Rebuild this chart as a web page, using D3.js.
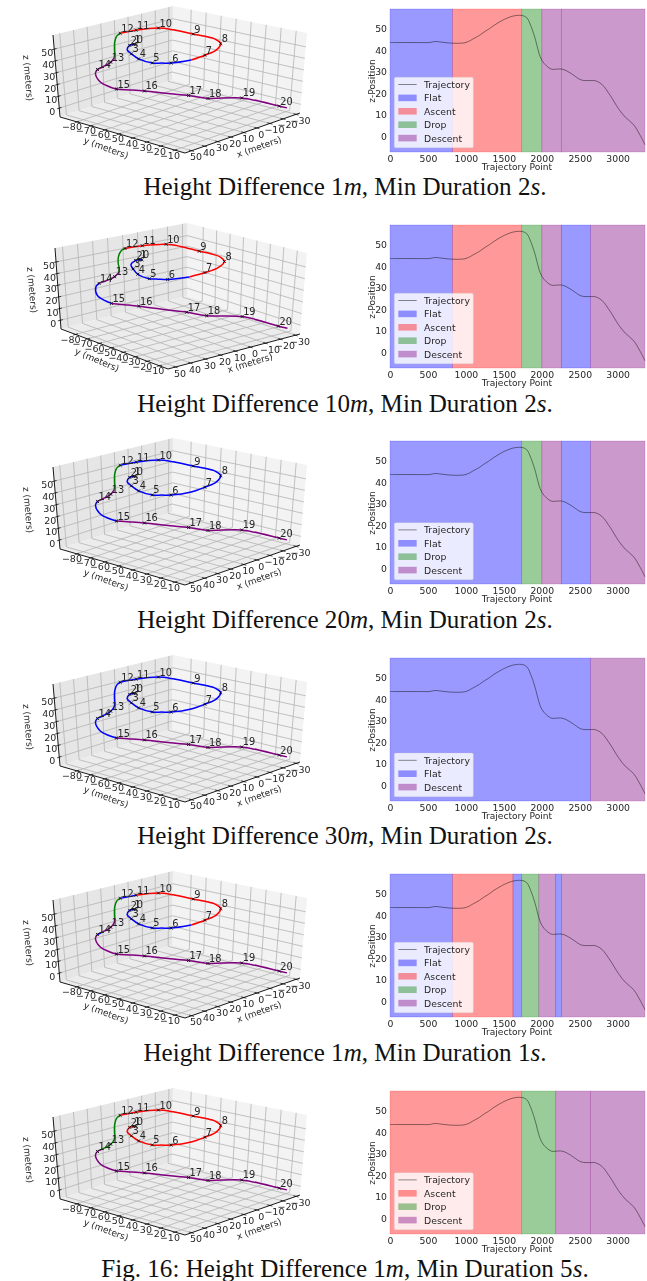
<!DOCTYPE html>
<html>
<head>
<meta charset="utf-8">
<script src="https://cdn.jsdelivr.net/npm/d3@7"></script>
<style>
html, body { margin: 0; padding: 0; background: #fff; }
svg { display: block; }
.plot { filter: blur(0.35px); }
text { font-family: "DejaVu Sans"; fill: #262626; }
.caption text, text.caption { font-family: "Liberation Serif"; fill: #111; }
</style>
</head>
<body>
<div id="chart"></div>
<script>
// trajectory samples
const trajIdx = [0, 50, 100, 200, 300, 400, 520, 590, 650, 825, 1000, 1090, 1180, 1240, 1300, 1370, 1450, 1520, 1620, 1735, 1800, 1860, 1920, 1960, 2000, 2060, 2130, 2183, 2258, 2330, 2420, 2520, 2640, 2700, 2790, 2900, 3010, 3100, 3210, 3300, 3360];
const trajX = [8.5, 9.4, 11.9, 19.1, 23.9, 28.9, 30.1, 28, 24.5, 12.2, 1.1, -8, -15.6, -17.8, -16.7, -13.2, -10.1, -5.6, 7.7, 18.6, 21.4, 24.1, 24.2, 21.7, 21.5, 25.3, 30.1, 33.9, 37.8, 42.1, 49.1, 49.2, 49.6, 46.1, 39.8, 26.4, 12.6, 3.6, -13.7, -23.4, -29.9];
const trajY = [-79.4, -80.4, -80.5, -75.7, -68.4, -58.9, -48.5, -44, -40.8, -38.5, -39.4, -39.9, -44, -49.6, -55.7, -60.4, -71.1, -76.9, -79.8, -80.5, -80.1, -79.3, -79.6, -81.9, -82.5, -81.5, -81.4, -80.4, -79.3, -76.8, -67.5, -61.7, -55.6, -49.5, -45.3, -39.8, -39.6, -34.3, -26.5, -9, -9.3];
const trajZ = [43.6, 43.6, 43.6, 43.6, 43.6, 43.6, 43.6, 44.1, 43.9, 43.3, 43.6, 45.2, 47, 48.5, 49.8, 51.6, 53.3, 54.6, 55.9, 56.2, 55.2, 51, 44.5, 39, 35.4, 32.8, 31.2, 31.2, 31.3, 30.4, 28.4, 26.2, 25.9, 25.9, 24.2, 19.1, 12.9, 8.9, 5.4, 0.2, -3.9];
// waypoints 0..20 as trajectory indices
const waypointIdx = [0, 50, 100, 300, 400, 520, 650, 1000, 1180, 1370, 1520, 1620, 1735, 2060, 2258, 2640, 2790, 3010, 3100, 3210, 3300];

const xTicks3d = [50, 40, 30, 20, 10, 0, -10, -20, -30];
const yTicks3d = [-80, -70, -60, -50, -40, -30, -20, -10];
const zTicks3d = [0, 10, 20, 30, 40, 50];
const xTicks2d = [0, 500, 1000, 1500, 2000, 2500, 3000];
const yTicks2d = [0, 10, 20, 30, 40, 50];

const heightDiff = [1, 10, 20, 30, 1, 1];
const minDuration = [2, 2, 2, 2, 1, 5];
const spanBreaks = [
    [825, 1735, 2000, 2258, 3360],
    [825, 1735, 2000, 2258, 2640, 3360],
    [1735, 2000, 2258, 2640, 3360],
    [2640, 3360],
    [825, 1620, 1735, 1960, 2183, 2258, 3360],
    [1735, 2183, 2640, 3360]
];
const spanKinds = [
    ["Flat", "Ascent", "Drop", "Descent", "Descent"],
    ["Flat", "Ascent", "Drop", "Descent", "Flat", "Descent"],
    ["Flat", "Drop", "Descent", "Flat", "Descent"],
    ["Flat", "Descent"],
    ["Flat", "Ascent", "Flat", "Drop", "Descent", "Flat", "Descent"],
    ["Ascent", "Drop", "Descent", "Descent"]
];
const kindOrder = ["Flat", "Ascent", "Drop", "Descent"];
const kindColor = { Flat: "#0000ff", Ascent: "#ff0000", Drop: "#008000", Descent: "#800080" };

let dim = { width: 647, height: 1281 };
let panelTop = [9, 225, 441, 658, 874, 1091];
let captionBase = [195, 412, 628, 844, 1061, 1277];

// box corners of the 3d views, relative to the panel top
let boxA = {
    L: [60, 108], B: [185, 144], R: [300, 104], K: [172, 71],
    LT: [53, 26], BT: [186, 56], RT: [307, 24], KT: [173, -3],
    xLabel: [259, 138, -20], yLabel: [106, 139, 20], zLabel: [28, 69, 85]
};
let boxB = {
    L: [61, 104], B: [168, 144], R: [300, 109], K: [187, 71],
    LT: [55, 23], BT: [170, 57], RT: [307, 28], KT: [187, -2],
    xLabel: [250, 138, -17], yLabel: [97, 135, 23], zLabel: [32, 65, 85]
};
let panelBox = [boxA, boxB, boxA, boxA, boxA, boxA];

let svg = d3.select("#chart").append("svg")
    .attr("width", dim.width)
    .attr("height", dim.height);

let scaleA = d3.scaleLinear().domain([-92.1, -2.8]).range([0, 1]);
let scaleB = d3.scaleLinear().domain([55, -33]).range([0, 1]);
let scaleW = d3.scaleLinear().domain([-7.5, 62]).range([0, 1]);

// trilinear map of the box, good enough for this mild perspective
function corners(box, a, b, w) {
    let mix = function(p, q, r, s, i) {
        return (1 - a) * (1 - b) * p[i] + a * (1 - b) * q[i] + a * b * r[i] + (1 - a) * b * s[i];
    };
    let out = [];
    for (let i = 0; i < 2; i++) {
        let f = mix(box.L, box.B, box.R, box.K, i);
        let t = mix(box.LT, box.BT, box.RT, box.KT, i);
        out.push(f + (t - f) * w);
    }
    return out;
}

function draw3d(g, n) {
    let box = panelBox[n];
    let pt = (a, b, w) => corners(box, a, b, w);
    let poly = pts => "M" + pts.map(p => p.join(",")).join("L") + "Z";

    g.append("path").attr("d", poly([box.L, box.K, box.KT, box.LT])).attr("fill", "#e6e6e6");
    g.append("path").attr("d", poly([box.K, box.R, box.RT, box.KT])).attr("fill", "#f3f3f3");
    g.append("path").attr("d", poly([box.L, box.B, box.R, box.K])).attr("fill", "#ececec");

    let seg = function(p, q, color, width) {
        g.append("line")
            .attr("x1", p[0]).attr("y1", p[1])
            .attr("x2", q[0]).attr("y2", q[1])
            .attr("stroke", color).attr("stroke-width", width);
    };
    let gridColor = "#b4b4b4";
    xTicks3d.forEach(function(d) {
        let b = scaleB(d);
        seg(pt(0, b, 0), pt(1, b, 0), gridColor, 0.8);
        seg(pt(0, b, 0), pt(0, b, 1), gridColor, 0.8);
    });
    yTicks3d.forEach(function(d) {
        let a = scaleA(d);
        seg(pt(a, 0, 0), pt(a, 1, 0), gridColor, 0.8);
        seg(pt(a, 1, 0), pt(a, 1, 1), gridColor, 0.8);
    });
    zTicks3d.forEach(function(d) {
        let w = scaleW(d);
        seg(pt(0, 0, w), pt(0, 1, w), gridColor, 0.8);
        seg(pt(0, 1, w), pt(1, 1, w), gridColor, 0.8);
    });

    // axis lines and ticks
    seg(box.L, box.B, "#000", 0.9);
    seg(box.B, box.R, "#000", 0.9);
    seg(box.L, box.LT, "#000", 0.9);
    xTicks3d.forEach(function(d) {
        let b = scaleB(d);
        seg(pt(0.98, b, 0), pt(1.02, b, 0), "#000", 0.7);
        let p = pt(1, b, 0);
        tickText(g, p[0] + 4.5, p[1] + 6, d);
    });
    yTicks3d.forEach(function(d) {
        let a = scaleA(d);
        seg(pt(a, 0.02, 0), pt(a, -0.02, 0), "#000", 0.7);
        let p = pt(a, 0, 0);
        tickText(g, p[0] - 5, p[1] + 5, d);
    });
    zTicks3d.forEach(function(d) {
        let w = scaleW(d);
        seg(pt(0, 0.02, w), pt(0, -0.02, w), "#000", 0.7);
        let p = pt(0, 0, w);
        tickText(g, p[0] - 7, p[1] + 3.5, d);
    });

    [["x (meters)", box.xLabel], ["y (meters)", box.yLabel], ["z (meters)", box.zLabel]].forEach(function(l) {
        g.append("text")
            .attr("transform", `translate(${l[1][0]},${l[1][1]}) rotate(${l[1][2]})`)
            .attr("text-anchor", "middle")
            .attr("dominant-baseline", "central")
            .attr("font-size", 9)
            .text(l[0]);
    });

    // trajectory, one path per span so each kind gets its colour
    let traj = trajIdx.map((d, i) => {
        let p = pt(scaleA(trajY[i]), scaleB(trajX[i]), scaleW(trajZ[i]));
        return { idx: d, px: p[0], py: p[1] };
    });
    let line = d3.line().x(d => d.px).y(d => d.py).curve(d3.curveCatmullRom);
    let start = 0;
    spanBreaks[n].forEach(function(end, i) {
        let part = traj.filter(d => d.idx >= start && d.idx <= end);
        g.append("path")
            .attr("d", line(part))
            .attr("fill", "none")
            .attr("stroke", kindColor[spanKinds[n][i]])
            .attr("stroke-width", 1.5);
        start = end;
    });

    let cross = d3.symbol().type(d3.symbolX).size(7);
    waypointIdx.forEach(function(d, i) {
        let p = traj.find(t => t.idx === d);
        g.append("path")
            .attr("transform", `translate(${p.px},${p.py})`)
            .attr("d", cross())
            .attr("fill", "none")
            .attr("stroke", "#000")
            .attr("stroke-width", 0.8);
        g.append("text")
            .attr("x", p.px + 1)
            .attr("y", p.py - 1.5)
            .attr("font-size", 9.8)
            .text(i);
    });
}

function tickText(g, x, y, d) {
    g.append("text")
        .attr("x", x)
        .attr("y", y)
        .attr("text-anchor", "middle")
        .attr("dominant-baseline", "central")
        .attr("font-size", 9.5)
        .text(d3.format("d")(d));
}

function draw2d(g, n) {
    let scaleX = d3.scaleLinear().domain([0, 3360]).range([390, 645]);
    let scaleY = d3.scaleLinear().domain([-7.3, 59.2]).range([143, 0]);

    let start = 0;
    spanBreaks[n].forEach(function(end, i) {
        g.append("rect")
            .attr("x", scaleX(start))
            .attr("y", 0)
            .attr("width", scaleX(end) - scaleX(start))
            .attr("height", 143)
            .attr("fill", kindColor[spanKinds[n][i]])
            .attr("fill-opacity", 0.4)
            .attr("stroke", kindColor[spanKinds[n][i]])
            .attr("stroke-opacity", 0.22)
            .attr("stroke-width", 0.8);
        start = end;
    });

    let line = d3.line().x((d, i) => scaleX(trajIdx[i])).y(d => scaleY(d)).curve(d3.curveCatmullRom);
    g.append("path")
        .attr("d", line(trajZ))
        .attr("fill", "none")
        .attr("stroke", "#000")
        .attr("stroke-opacity", 0.65)
        .attr("stroke-width", 0.7);

    let axisX = g.append("g")
        .attr("transform", "translate(0,143)")
        .call(d3.axisBottom(scaleX).tickValues(xTicks2d).tickFormat(d3.format("d")).tickSize(0).tickPadding(3));
    let axisY = g.append("g")
        .attr("transform", "translate(390,0)")
        .call(d3.axisLeft(scaleY).tickValues(yTicks2d).tickSize(0).tickPadding(3));
    [axisX, axisY].forEach(function(a) {
        a.select(".domain").remove();
        a.selectAll("text").attr("font-size", 9.3).attr("font-family", "DejaVu Sans").attr("fill", "#262626");
    });

    g.append("text")
        .attr("x", 517).attr("y", 158)
        .attr("text-anchor", "middle").attr("dominant-baseline", "central")
        .attr("font-size", 9.1)
        .text("Trajectory Point");
    g.append("text")
        .attr("transform", "translate(371.5,72) rotate(-90)")
        .attr("text-anchor", "middle").attr("dominant-baseline", "central")
        .attr("font-size", 9.1)
        .text("z-Position");

    // legend, anchored to the lower left
    let kinds = kindOrder.filter(k => spanKinds[n].includes(k));
    let rows = kinds.length + 1;
    let rowH = 13.4;
    let legH = rows * rowH + 3.4;
    let legY = 138.7 - legH;
    let leg = g.append("g");
    leg.append("rect")
        .attr("x", 394.3).attr("y", legY)
        .attr("width", 79).attr("height", legH)
        .attr("rx", 1.5)
        .attr("fill", "#fff").attr("fill-opacity", 0.8)
        .attr("stroke", "#ccc").attr("stroke-opacity", 0.5).attr("stroke-width", 0.5);
    let rowY = i => legY + 7.2 + i * rowH;
    leg.append("line")
        .attr("x1", 398.3).attr("x2", 416.7)
        .attr("y1", rowY(0)).attr("y2", rowY(0))
        .attr("stroke", "#000").attr("stroke-opacity", 0.65).attr("stroke-width", 0.7);
    leg.selectAll("rect.key")
        .data(kinds)
        .join("rect")
        .attr("class", "key")
        .attr("x", 398.3).attr("y", (d, i) => rowY(i + 1) - 3.3)
        .attr("width", 18.4).attr("height", 6.6)
        .attr("fill", d => kindColor[d]).attr("fill-opacity", 0.4);
    leg.selectAll("text")
        .data(["Trajectory"].concat(kinds))
        .join("text")
        .attr("x", 424).attr("y", (d, i) => rowY(i))
        .attr("dominant-baseline", "central")
        .attr("font-size", 9.3)
        .text(d => d);
}

function drawCaption(n) {
    let t = svg.append("text")
        .attr("class", "caption")
        .attr("x", 345)
        .attr("y", captionBase[n])
        .attr("text-anchor", "middle")
        .attr("font-size", 25.1);
    let prefix = n === 5 ? "Fig. 16: " : "";
    t.append("tspan").text(prefix + "Height Difference " + heightDiff[n]);
    t.append("tspan").attr("font-style", "italic").text("m");
    t.append("tspan").text(", Min Duration " + minDuration[n]);
    t.append("tspan").attr("font-style", "italic").text("s");
    t.append("tspan").text(".");
}

panelTop.forEach(function(top, n) {
    let g = svg.append("g").attr("class", "plot").attr("transform", `translate(0,${top})`);
    draw3d(g, n);
    draw2d(g, n);
    drawCaption(n);
});
</script>
</body>
</html>
